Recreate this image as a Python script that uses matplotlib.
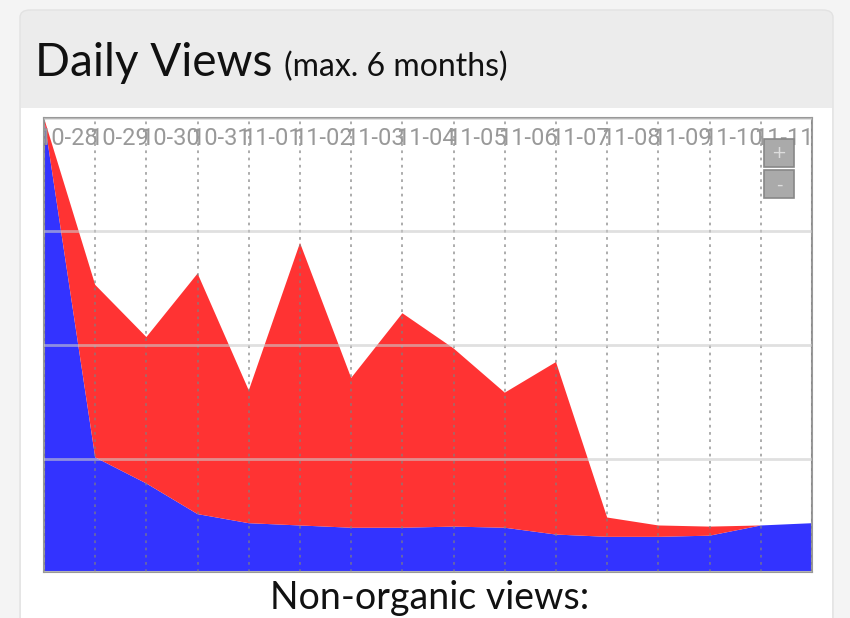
import numpy as np
import matplotlib.pyplot as plt
from matplotlib.patches import FancyBboxPatch, Rectangle

# data
dates = ['10-27', '10-28', '10-29', '10-30', '10-31', '11-01', '11-02', '11-03',
         '11-04', '11-05', '11-06', '11-07', '11-08', '11-09', '11-10', '11-11']
organic = [400, 101, 78, 51, 43, 41, 39, 39, 40, 39, 33, 31, 31, 32, 41, 43]
non_organic = [0, 152, 129, 212, 117, 249, 132, 189, 157, 119, 152, 17, 10, 8, 0, 0]
ymax = 400

fig = plt.figure(figsize=(8.5, 6.18), dpi=100)
fig.patch.set_facecolor('#f4f4f4')

# card: grey header + white body
W, H = 850, 618
card = FancyBboxPatch((20 / W, -0.05), 813 / W, (608 / H) + 0.05,
                      boxstyle='round,pad=0,rounding_size=0.012',
                      transform=fig.transFigure, facecolor='#ececec',
                      edgecolor='#e2e2e2', lw=1, zorder=-3)
fig.patches.append(card)
body = Rectangle((21 / W, 0), 811 / W, 1 - 108 / H, transform=fig.transFigure,
                 facecolor='white', edgecolor='none', zorder=-2)
fig.patches.append(body)

fig.text(35 / W, 1 - 76 / H, 'Daily Views', fontsize=33, family='Lato',
         color='#111111', va='baseline')
fig.text(284 / W, 1 - 76 / H, '(max. 6 months)', fontsize=23, family='Lato',
         color='#111111', va='baseline')
fig.text(430 / W, 1 - 609 / H, 'Non-organic views:', fontsize=27, family='Lato',
         color='#111111', va='baseline', ha='center')

ax = fig.add_axes([44 / W, 1 - 572 / H, 768 / W, 454 / H])
ax.set_zorder(2)
x = np.arange(len(dates))
ax.stackplot(x, organic, non_organic, colors=['#3333ff', '#ff3333'], lw=0)
ax.set_xlim(0, len(dates) - 1)
ax.set_ylim(0, ymax)
ax.set_yticks(np.arange(0, ymax + 1, 100))
ax.set_xticks(x)
ax.tick_params(length=0, labelbottom=False, labelleft=False)
ax.grid(axis='y', color='#cccccc', lw=2, alpha=0.6)
ax.grid(axis='x', color='#808080', lw=1.3, ls=(0, (1.5, 2.5)), alpha=0.7)
ax.set_axisbelow(False)
for s in ax.spines.values():
    s.set_color('#999999')
    s.set_linewidth(1.5)

# labels sit right-aligned on each gridline; the first one falls outside the plot
for xi, d in zip(x[1:], dates[1:]):
    ax.text(xi + 0.04, 0.955, d, transform=ax.get_xaxis_transform(), ha='right',
            va='center', fontsize=17, family='Roboto', color='#999999',
            clip_on=True)

# zoom buttons
for yy, lab in [(0.892, '+'), (0.823, '-')]:
    ax.add_patch(Rectangle((0.937, yy), 0.040, 0.062, transform=ax.transAxes,
                           facecolor='#aaaaaa', edgecolor='#888888', lw=1.2,
                           zorder=5))
    ax.text(0.957, yy + 0.031, lab, transform=ax.transAxes, ha='center',
            va='center', color='#dddddd', fontsize=13, zorder=6)

fig.savefig('out.png', dpi=100, facecolor=fig.get_facecolor())
